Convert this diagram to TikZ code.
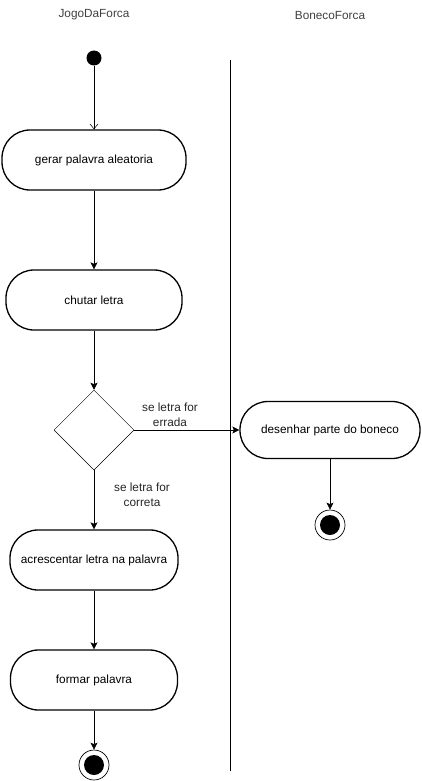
\documentclass[tikz,border=0pt]{standalone}
\usepackage{fontspec}
\setmainfont{Liberation Sans}
\usetikzlibrary{arrows.meta, positioning, shapes.geometric}

\begin{document}
\begin{tikzpicture}[x=1pt, y=-1pt,
    font=\fontsize{11.8}{15}\selectfont,
    act/.style={draw, line width=1.3pt, rounded corners=28pt, minimum height=60pt,
                inner sep=0pt, align=center},
    dec/.style={draw, diamond, line width=0.5pt, minimum width=80pt, minimum height=80pt,
                inner sep=0pt},
    initial/.style={circle, fill=black, minimum size=15pt, inner sep=0pt},
    final/.style={circle, draw, line width=0.7pt, minimum size=30pt, inner sep=0pt,
                  path picture={\fill (path picture bounding box.center) circle (10pt);}},
    lane/.style={text=black!75},
    guard/.style={align=center, text=black!85},
    ar/.style={-{Stealth[length=7pt, width=7pt, inset=1.5pt]}, line width=0.6pt},
    open/.style={-{Straight Barb[length=5pt, width=8pt]}, line width=0.5pt}
  ]
    \useasboundingbox (0,0) rectangle (421,781);
    % swimlanes
    \node[lane] (jogo) at (94,15) {JogoDaForca};
    \node[lane] (boneco) at (330,15) {BonecoForca};
    \draw[line width=0.8pt] (230,60) -- (230,771);
    % left lane
    \node[initial] (ini) at (94,58) {};
    \node[act, minimum width=184pt] (gerar) at (94,160) {gerar palavra aleatoria};
    \node[act, minimum width=176pt] (chutar) at (94,300) {chutar letra};
    \node[dec] (teste) at (94,430) {};
    \node[act, minimum width=168pt] (acresc) at (94,560) {acrescentar letra na palavra};
    \node[act, minimum width=167pt] (formar) at (94,680) {formar palavra};
    \node[final] (fim1) at (94,765) {};
    % right lane
    \node[act, minimum width=180pt, minimum height=57pt] (desenhar) at (330,430) {desenhar parte do boneco};
    \node[final] (fim2) at (330,525) {};
    \draw[open] (ini) -- (gerar);
    \draw[ar] (gerar) -- (chutar);
    \draw[ar] (chutar) -- (teste);
    \draw[ar] (teste.east) -- (desenhar.west);
    \draw[ar] (teste.south) -- (acresc.north);
    \draw[ar] (acresc) -- (formar);
    \draw[ar] (formar) -- (fim1);
    \draw[ar] (desenhar) -- (fim2);
    \node[guard] (errada) at (170,415) {se letra for\\errada};
    \node[guard] (correta) at (142,495) {se letra for\\correta};
  \end{tikzpicture}
\end{document}
